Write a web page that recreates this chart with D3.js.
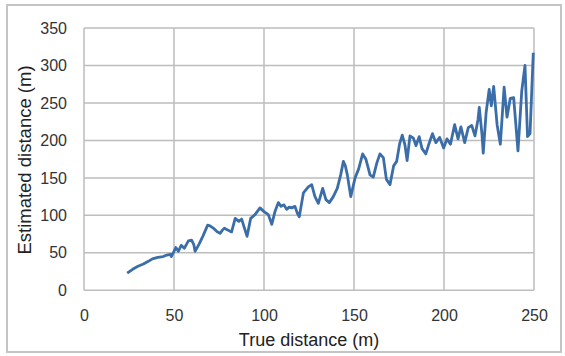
<!DOCTYPE html>
<html>
<head>
<meta charset="utf-8">
<script src="https://cdn.jsdelivr.net/npm/d3@7"></script>
<style>
  body { margin: 0; background: #fff; }
  svg { display: block; font-family: "Liberation Sans", Arial, sans-serif; }
</style>
</head>
<body>
<svg id="chart"></svg>
<script>
// values
const trueDist = [24, 27, 30, 33, 36, 38, 41, 44, 46, 48, 48.5, 50, 51, 52.4, 54, 55.7, 58, 59.8, 61, 61.7,
  64, 66, 68.7, 70, 71.8, 74, 75.6, 76.8, 78, 79.3, 81, 82, 84, 86, 87.6, 89, 90.6, 92.6, 95, 97.8,
  100, 102.4, 104.3, 106.1, 108, 109.5, 111.1, 112.6, 114, 115.4, 117.2, 118.5, 119.6, 121.9, 124.6, 126.5, 128.3, 130.2, 132.6, 134.4,
  136.3, 138.5, 140.7, 142.6, 144.1, 145.2, 146.3, 148.2, 150.6, 152.6, 154.8, 156.6, 158.9, 160.7, 162.7, 164.4, 166.3, 168, 170, 172, 173.7,
  175.3, 176.8, 178.3, 179.5, 181.1, 183, 184.4, 186.2, 187.8, 189.9, 191.7, 193.6, 195.5, 197.6, 199.8, 201.6, 203.6, 205.9, 207.8, 209.4,
  211.5, 213.5, 215.4, 217.2, 218.9, 219.6, 221.1, 221.8, 223.4, 225.1, 226.3, 227.6, 229.5, 231.3, 233.4, 235, 236.8, 238.7, 241.1, 243.2,
  245, 246.4, 247.8, 249.6];
const estDist = [23, 28, 32, 35, 39, 42, 44, 45, 47, 48, 45, 52, 57, 52, 60, 56, 66, 67, 61, 52,
  62, 72, 87, 86, 83, 78, 76, 80, 83, 81, 79, 78, 96, 92, 95, 84, 72, 96, 101, 110,
  105, 101, 88, 105, 117, 112, 114, 108, 111, 110, 112, 103, 98, 130, 138, 141, 125, 116, 136, 121,
  117, 125, 136, 154, 172, 166, 154, 125, 150, 162, 182, 175, 154, 151, 170, 182, 177, 148, 141, 166, 172,
  195, 207, 194, 173, 206, 203, 193, 205, 189, 182, 196, 209, 197, 204, 190, 202, 195, 221, 202, 218,
  197, 217, 220, 206, 228, 244, 208, 183, 237, 268, 246, 272, 221, 195, 271, 231, 256, 257, 186, 266,
  300, 205, 209, 317];
const xTicks = [0, 50, 100, 150, 200, 250];
const yTicks = [0, 50, 100, 150, 200, 250, 300, 350];

const W = 565, H = 356;
const margin = { top: 28, right: 31, bottom: 65.7, left: 84 };
const width = W - margin.left - margin.right;
const height = H - margin.top - margin.bottom;

const root = d3.select("#chart").attr("width", W).attr("height", H);

// outer frame
root.append("rect")
  .attr("x", 7).attr("y", 5)
  .attr("width", 554).attr("height", 347)
  .attr("fill", "none")
  .attr("stroke", "#c4c4c4")
  .attr("stroke-width", 2);

const svg = root.append("g")
  .attr("transform", "translate(" + margin.left + "," + margin.top + ")");

const x = d3.scaleLinear().domain([0, 250]).range([0, width]);
const y = d3.scaleLinear().domain([0, 350]).range([height, 0]);

// grid
svg.append("g").selectAll("line").data(yTicks).join("line")
  .attr("x1", 0).attr("x2", width)
  .attr("y1", d => y(d)).attr("y2", d => y(d))
  .attr("stroke", "#bdbdbd").attr("stroke-width", 1.5);
svg.append("g").selectAll("line").data(xTicks).join("line")
  .attr("y1", 0).attr("y2", height)
  .attr("x1", d => x(d)).attr("x2", d => x(d))
  .attr("stroke", "#bdbdbd").attr("stroke-width", 1.5);

// axes (labels only)
const xAxis = svg.append("g")
  .attr("transform", "translate(0," + height + ")")
  .call(d3.axisBottom(x).tickValues(xTicks).tickSize(0).tickPadding(19));
const yAxis = svg.append("g")
  .call(d3.axisLeft(y).tickValues(yTicks).tickSize(0).tickPadding(17));
[xAxis, yAxis].forEach(a => {
  a.select(".domain").remove();
  a.selectAll("text")
    .attr("font-family", "Liberation Sans, Arial, sans-serif")
    .attr("font-size", "16px")
    .attr("fill", "#333");
});

// line
svg.append("path")
  .datum(trueDist.map((d, i) => ({ x: d, y: estDist[i] })))
  .attr("fill", "none")
  .attr("stroke", "#3b6ea8")
  .attr("stroke-width", 2.8)
  .attr("stroke-linejoin", "round")
  .attr("d", d3.line().x(d => x(d.x)).y(d => y(d.y)));

// titles
root.append("text")
  .attr("x", margin.left + width / 2)
  .attr("y", 346)
  .attr("text-anchor", "middle")
  .attr("font-size", "18px")
  .attr("fill", "#222")
  .text("True distance (m)");
root.append("text")
  .attr("transform", "translate(31,160) rotate(-90)")
  .attr("text-anchor", "middle")
  .attr("font-size", "18.5px")
  .attr("fill", "#222")
  .text("Estimated distance (m)");
</script>
</body>
</html>
